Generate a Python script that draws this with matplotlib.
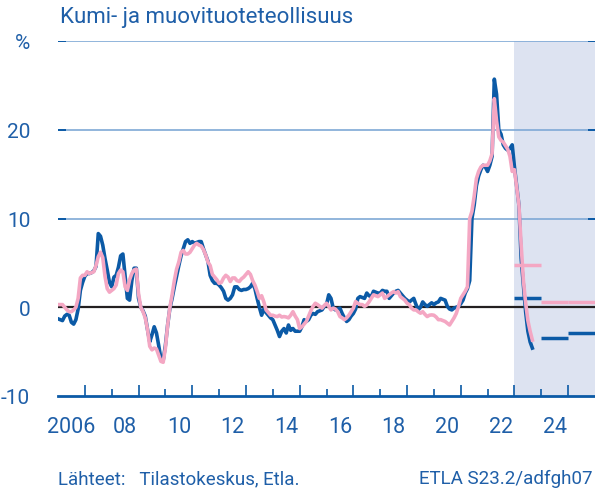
import numpy as np
import matplotlib.pyplot as plt

plt.rcParams['font.family'] = ['Roboto', 'DejaVu Sans']

# Monthly series, first value = January 2006
blue_values = [
    -1.3, -1.4, -1.5, -1.0, -0.8, -0.9, -1.7, -1.9, -1.4, -0.2, 1.9, 2.8,    # 2006
    3.5, 3.8, 3.8, 3.9, 4.1, 4.6, 8.3, 8.0, 7.0, 5.5, 4.2, 2.8,             # 2007
    2.3, 3.4, 3.6, 4.5, 5.8, 6.0, 3.5, 1.0, 0.8, 3.0, 4.4, 4.4,             # 2008
    1.0, 0.0, -0.4, -1.0, -2.5, -3.9, -3.1, -2.2, -2.9, -4.3, -5.8, -6.0,   # 2009
    -4.3, -2.0, -0.1, 1.0, 2.3, 3.5, 4.7, 5.8, 6.6, 7.4, 7.6, 7.2,          # 2010
    7.4, 7.2, 7.3, 7.4, 7.4, 6.6, 5.9, 5.2, 3.6, 3.0, 2.7, 2.7,             # 2011
    2.5, 2.2, 1.8, 1.0, 0.8, 1.0, 1.4, 2.3, 2.3, 2.0, 1.9, 2.0,             # 2012
    2.0, 2.1, 2.3, 2.7, 2.1, 1.0, 0.0, -0.9, -0.2, -0.6, -0.9, -1.2,        # 2013
    -1.4, -2.0, -2.6, -3.3, -2.7, -2.4, -2.9, -2.0, -2.6, -2.4, -2.7, -2.7, # 2014
    -2.7, -2.2, -1.4, -1.6, -1.4, -0.9, -0.7, -0.8, -0.5, -0.4, -0.3, 0.1,  # 2015
    0.3, 1.4, 1.0, -0.1, -0.3, -0.2, -0.1, -0.7, -1.2, -1.6, -1.4, -1.0,    # 2016
    -0.7, -0.2, 1.0, 1.2, 1.1, 1.0, 1.6, 1.3, 1.2, 1.8, 1.7, 1.6,           # 2017
    1.6, 1.9, 1.8, 1.8, 1.0, 1.3, 1.6, 1.8, 1.9, 1.6, 1.3, 1.0,             # 2018
    0.8, 0.6, 0.8, 1.0, 0.3, -0.3, 0.0, 0.6, 0.3, 0.1, 0.3, 0.5,            # 2019
    0.3, 0.5, 0.6, 1.0, 0.9, 0.8, 0.1, -0.2, -0.3, -0.1, 0.0, 0.1,          # 2020
    0.4, 0.8, 1.6, 2.1, 3.0, 10.0, 11.5, 13.7, 14.8, 15.5, 16.0, 15.8,      # 2021
    15.3, 16.0, 17.0, 25.7, 24.0, 20.0, 19.5, 18.3, 17.9, 17.7, 17.9, 18.3, # 2022
    15.8, 13.7, 11.5, 5.5, 2.5, -0.5, -2.7, -3.9, -4.6,                     # 2023
]

pink_values = [
    0.3, 0.3, 0.3, 0.0, -0.3, -0.5, -0.5, -0.3, 0.0, 1.0, 3.3, 3.6,         # 2006
    3.6, 4.0, 3.8, 3.9, 4.0, 4.7, 5.7, 6.2, 5.6, 3.5, 2.1, 1.7,             # 2007
    1.9, 2.1, 2.5, 3.8, 4.2, 4.0, 2.3, 1.9, 3.1, 3.8, 4.2, 4.3,             # 2008
    1.5, 0.0, -0.5, -1.2, -2.5, -4.4, -4.8, -4.6, -4.7, -5.4, -6.1, -6.2,   # 2009
    -4.6, -2.0, 0.0, 1.4, 3.0, 4.3, 5.1, 6.2, 6.4, 6.0, 6.0, 6.2,           # 2010
    6.6, 7.0, 7.2, 7.0, 6.9, 6.5, 5.9, 5.1, 4.7, 3.7, 3.4, 3.1,             # 2011
    2.7, 2.8, 3.3, 3.6, 3.4, 2.9, 3.3, 3.3, 3.0, 2.9, 3.2, 3.4,             # 2012
    3.7, 4.0, 3.7, 3.0, 2.5, 1.8, 1.0, 1.3, 0.6, -0.3, -0.6, -0.9,          # 2013
    -0.9, -1.0, -1.05, -0.9, -1.1, -1.05, -1.1, -1.2, -0.9, -0.5, -1.0, -1.4, # 2014
    -2.4, -2.2, -1.9, -1.6, -1.0, -0.4, 0.1, 0.45, 0.3, 0.1, -0.1, 0.2,     # 2015
    0.45, 0.1, -0.3, -0.1, -0.2, -0.5, -1.05, -1.2, -1.4, -1.2, -0.9, -0.5, # 2016
    -0.1, 0.64, 0.45, 0.3, 0.3, 0.1, 0.26, 0.6, 1.0, 1.4, 1.3, 1.2,         # 2017
    1.4, 1.6, 1.0, 1.2, 1.4, 1.6, 1.76, 1.6, 1.76, 1.2, 1.0, 0.8,           # 2018
    0.45, 0.3, -0.1, -0.3, -0.3, -0.5, -0.67, -0.5, -0.8, -1.05, -0.9, -0.86, # 2019
    -0.9, -1.1, -1.4, -1.4, -1.5, -1.6, -1.8, -2.0, -1.6, -1.2, -0.7, 0.1,  # 2020
    1.0, 1.4, 1.8, 2.3, 10.0, 10.8, 12.5, 14.5, 15.3, 15.8, 16.0, 16.0,     # 2021
    16.0, 16.5, 17.3, 23.5, 21.0, 19.2, 18.8, 18.6, 18.2, 17.8, 17.0, 15.3, # 2022
    15.5, 13.5, 11.5, 7.0, 3.0, 0.5, -1.5, -2.7, -3.7,                      # 2023
]

# annual forecasts
forecast_years = [2023, 2024, 2025]
blue_forecast = [1.0, -3.5, -2.9]
pink_forecast = [4.75, 0.6, 0.6]

x_labels = ['2006', '08', '10', '12', '14', '16', '18', '20', '22', '24']
y_ticks = [-10, 0, 10, 20, 30]
y_labels = ['-10', '0', '10', '20', '%']

BLUE = '#0b5aa6'
PINK = '#f4a7c3'
TEXT = '#1f5fa8'
GRID = '#7fa9d6'

fig = plt.figure(figsize=(5.95, 4.89), dpi=100)
ax = fig.add_axes([58 / 595, 1 - 397 / 489, 537 / 595, 355 / 489])

t_blue = 2006 + np.arange(len(blue_values)) / 12
t_pink = 2006 + np.arange(len(pink_values)) / 12

ax.axvspan(2023, 2026, color='#dde3f1', zorder=0, lw=0)

for y in [10, 20, 30]:
    ax.axhline(y, color=GRID, lw=1.2, zorder=1)
    ax.plot([2006, 2006.3], [y, y], color=BLUE, lw=1.4, zorder=1, solid_capstyle='butt')
    ax.plot([2025.74, 2026], [y, y], color=BLUE, lw=1.4, zorder=1, solid_capstyle='butt')
ax.axhline(0, color='#231f20', lw=1.6, zorder=2)

ax.plot(t_blue, blue_values, color=BLUE, lw=2.6, zorder=3, solid_joinstyle='round')
ax.plot(t_pink, pink_values, color=PINK, lw=2.6, zorder=4, solid_joinstyle='round')

for yr, b, p in zip(forecast_years, blue_forecast, pink_forecast):
    ax.plot([yr, yr + 1], [b, b], color=BLUE, lw=2.5, zorder=3, solid_capstyle='butt')
    ax.plot([yr, yr + 1], [p, p], color=PINK, lw=2.5, zorder=4, solid_capstyle='butt')

ax.set_xlim(2006, 2026)
ax.set_ylim(-10, 30)

for s in ['top', 'right', 'left']:
    ax.spines[s].set_visible(False)
ax.spines['bottom'].set_color(BLUE)
ax.spines['bottom'].set_linewidth(2)
ax.spines['bottom'].set_zorder(5)

ax.set_xticks(np.arange(2007, 2026, 2))
ax.set_xticks(np.arange(2008, 2025, 2), minor=True)
ax.tick_params(axis='x', which='major', direction='in', length=8, width=1.2,
               color=BLUE, labelbottom=False)
ax.tick_params(axis='x', which='minor', direction='in', length=5, width=1.2,
               color=BLUE, labelbottom=False)
for i, lab in enumerate(x_labels):
    ax.text(2006.5 + 2 * i, -0.085, lab, transform=ax.get_xaxis_transform(),
            ha='center', va='center', fontsize=15.5, color=TEXT)

ax.set_yticks(y_ticks)
ax.set_yticklabels(y_labels)
ax.tick_params(axis='y', length=0, pad=20, labelsize=15, labelcolor=TEXT)

fig.text(60 / 595, 1 - 18 / 489, 'Kumi- ja muovituoteteollisuus',
         fontsize=16, color=TEXT, va='center', ha='left')
fig.text(58 / 595, 1 - 479 / 489, 'Lähteet:   Tilastokeskus, Etla.',
         fontsize=13.5, color=TEXT, va='center', ha='left')
fig.text(593 / 595, 1 - 479 / 489, 'ETLA S23.2/adfgh07',
         fontsize=13.5, color=TEXT, va='center', ha='right')

fig.savefig('out.png', dpi=100)
